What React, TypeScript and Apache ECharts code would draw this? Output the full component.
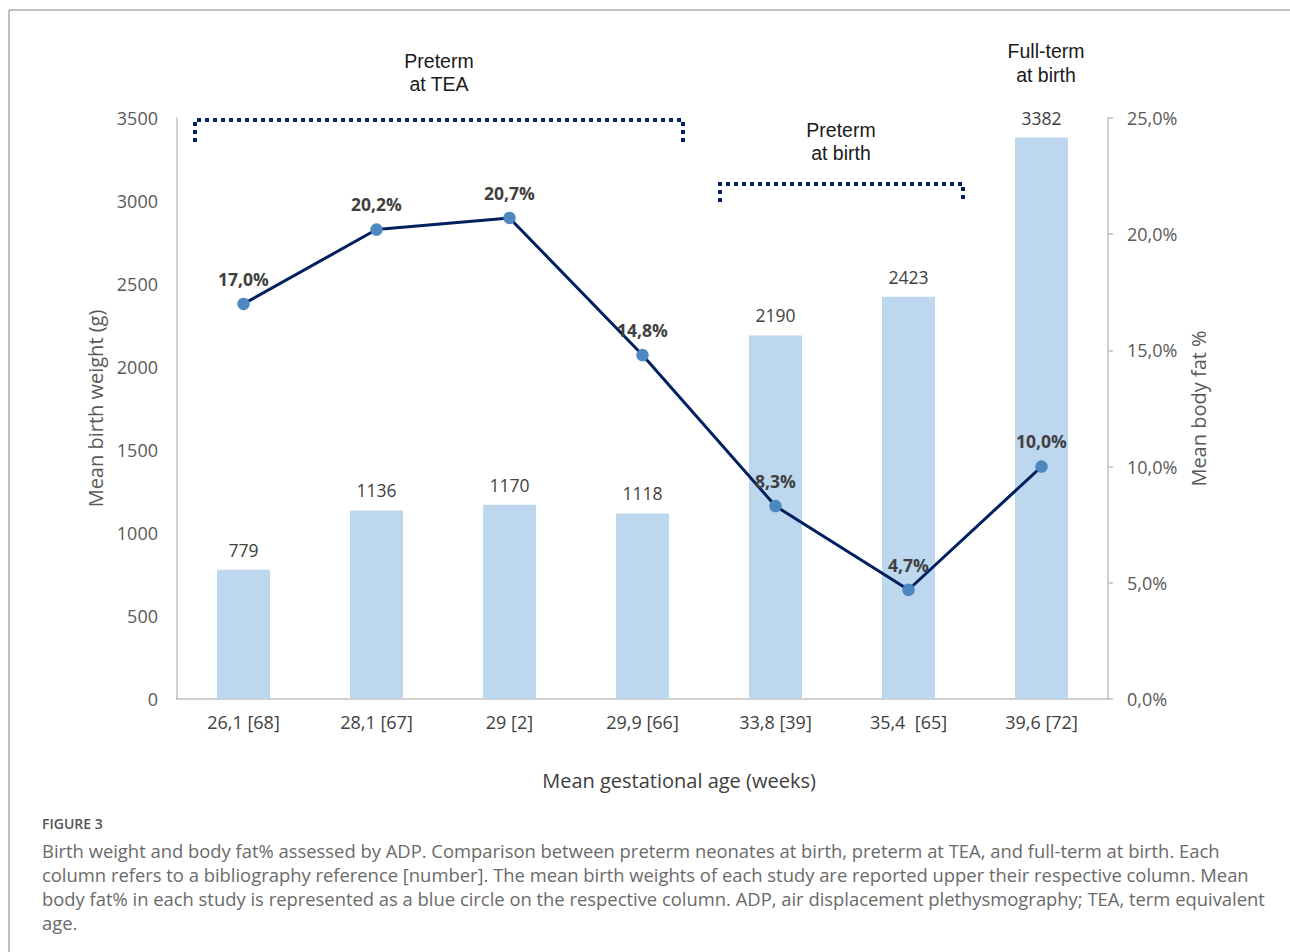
import React, { useEffect, useRef } from "react";
import * as echarts from "echarts";

const categories = ["26,1 [68]", "28,1 [67]", "29 [2]", "29,9 [66]", "33,8 [39]", "35,4  [65]", "39,6 [72]"];
const birthWeight = [779, 1136, 1170, 1118, 2190, 2423, 3382];
const bodyFat = [17.0, 20.2, 20.7, 14.8, 8.3, 4.7, 10.0];
const leftTicks = { min: 0, max: 3500, interval: 500 };
const rightTicks = { min: 0, max: 25, interval: 5 };
const captionTitle = "FIGURE 3";
const captionLines = [
  "Birth weight and body fat% assessed by ADP. Comparison between preterm neonates at birth, preterm at TEA, and full-term at birth. Each",
  "column refers to a bibliography reference [number]. The mean birth weights of each study are reported upper their respective column. Mean",
  "body fat% in each study is represented as a blue circle on the respective column. ADP, air displacement plethysmography; TEA, term equivalent",
  "age.",
];

const FONT = "'Open Sans', 'DejaVu Sans', sans-serif";
const ANN_FONT = "'Liberation Sans', Arial, sans-serif";

export default function App() {
  const ref = useRef<HTMLDivElement>(null);
  useEffect(() => {
    if (!ref.current) return;
    const chart = echarts.init(ref.current, undefined, { renderer: "svg" });
    const fmtPct = (v: number) => v.toFixed(1).replace(".", ",") + "%";
    chart.setOption({
      animation: false,
      backgroundColor: "#ffffff",
      grid: { left: 177, right: 182, top: 118, bottom: 253, containLabel: false },
      xAxis: {
        type: "category",
        data: categories,
        axisTick: { show: false },
        axisLine: { lineStyle: { color: "#bfbfbf", width: 1.5 } },
        axisLabel: { color: "#404040", fontSize: 18, fontFamily: FONT, margin: 14 },
        name: "Mean gestational age (weeks)",
        nameLocation: "middle",
        nameGap: 71,
        nameTextStyle: { color: "#404040", fontSize: 20, fontFamily: FONT, padding: [0, 0, 0, 73] },
      },
      yAxis: [
        {
          type: "value",
          min: leftTicks.min,
          max: leftTicks.max,
          interval: leftTicks.interval,
          splitLine: { show: false },
          axisTick: { show: false },
          axisLine: { show: true, lineStyle: { color: "#bfbfbf", width: 1.5 } },
          axisLabel: { color: "#595959", fontSize: 18, fontFamily: FONT, margin: 19, formatter: (v: number) => String(v) },
          name: "Mean birth weight (g)",
          nameLocation: "middle",
          nameGap: 67,
          nameTextStyle: { color: "#595959", fontSize: 20, fontFamily: FONT },
        },
        {
          type: "value",
          position: "right",
          min: rightTicks.min,
          max: rightTicks.max,
          interval: rightTicks.interval,
          splitLine: { show: false },
          axisTick: { show: true, length: 5, lineStyle: { color: "#bfbfbf", width: 1.5 } },
          axisLine: { show: true, lineStyle: { color: "#bfbfbf", width: 1.5 } },
          axisLabel: { color: "#595959", fontSize: 18, fontFamily: FONT, margin: 19, formatter: fmtPct },
          name: "Mean body fat %",
          nameLocation: "middle",
          nameGap: 77,
          nameTextStyle: { color: "#595959", fontSize: 20, fontFamily: FONT },
        },
      ],
      series: [
        {
          type: "bar",
          data: birthWeight,
          barWidth: 53,
          yAxisIndex: 0,
          itemStyle: { color: "#bdd7ee" },
          label: { show: true, position: "top", distance: 11, color: "#404040", fontSize: 17.5, fontFamily: FONT },
        },
        {
          type: "line",
          data: bodyFat,
          yAxisIndex: 1,
          symbol: "circle",
          symbolSize: 12.5,
          lineStyle: { color: "#002060", width: 3 },
          itemStyle: { color: "#4f87c1" },
          z: 5,
          label: {
            show: true,
            position: "top",
            distance: 10,
            color: "#404040",
            fontSize: 17.5,
            fontWeight: "bold",
            fontFamily: FONT,
            formatter: (p: any) => fmtPct(p.value),
          },
        },
      ],
      graphic: [
        { type: "line", shape: { x1: 9, y1: 10, x2: 1290, y2: 10 }, style: { stroke: "#aaaaaa", lineWidth: 1.5 } },
        { type: "line", shape: { x1: 9, y1: 10, x2: 9, y2: 952 }, style: { stroke: "#aaaaaa", lineWidth: 1.5 } },
        {
          type: "polyline",
          shape: { points: [[195, 142], [195, 120], [683, 120], [683, 142]] },
          style: { stroke: "#002060", lineWidth: 4, lineDash: [4, 4], fill: null },
        },
        {
          type: "polyline",
          shape: { points: [[720, 202], [720, 184], [963, 184], [963, 202]] },
          style: { stroke: "#002060", lineWidth: 4, lineDash: [4, 4], fill: null },
        },
        {
          type: "text",
          x: 439,
          y: 49,
          style: { text: "Preterm\nat TEA", font: `19.5px ${ANN_FONT}`, fill: "#1a1a1a", align: "center", lineHeight: 23 },
        },
        {
          type: "text",
          x: 841,
          y: 118,
          style: { text: "Preterm\nat birth", font: `19.5px ${ANN_FONT}`, fill: "#1a1a1a", align: "center", lineHeight: 23 },
        },
        {
          type: "text",
          x: 1046,
          y: 39,
          style: { text: "Full-term\nat birth", font: `19.5px ${ANN_FONT}`, fill: "#1a1a1a", align: "center", lineHeight: 24 },
        },
        {
          type: "text",
          x: 42,
          y: 816,
          style: { text: captionTitle, font: `600 14px ${FONT}`, fill: "#555555" },
        },
        {
          type: "text",
          x: 42,
          y: 838,
          style: { text: captionLines.join("\n"), font: `18.4px ${FONT}`, fill: "#6a6a6a", lineHeight: 24 },
        },
      ],
    });
    return () => chart.dispose();
  }, []);
  return <div ref={ref} style={{ position: "absolute", left: 0, top: 0, width: 1290, height: 952 }} />;
}
